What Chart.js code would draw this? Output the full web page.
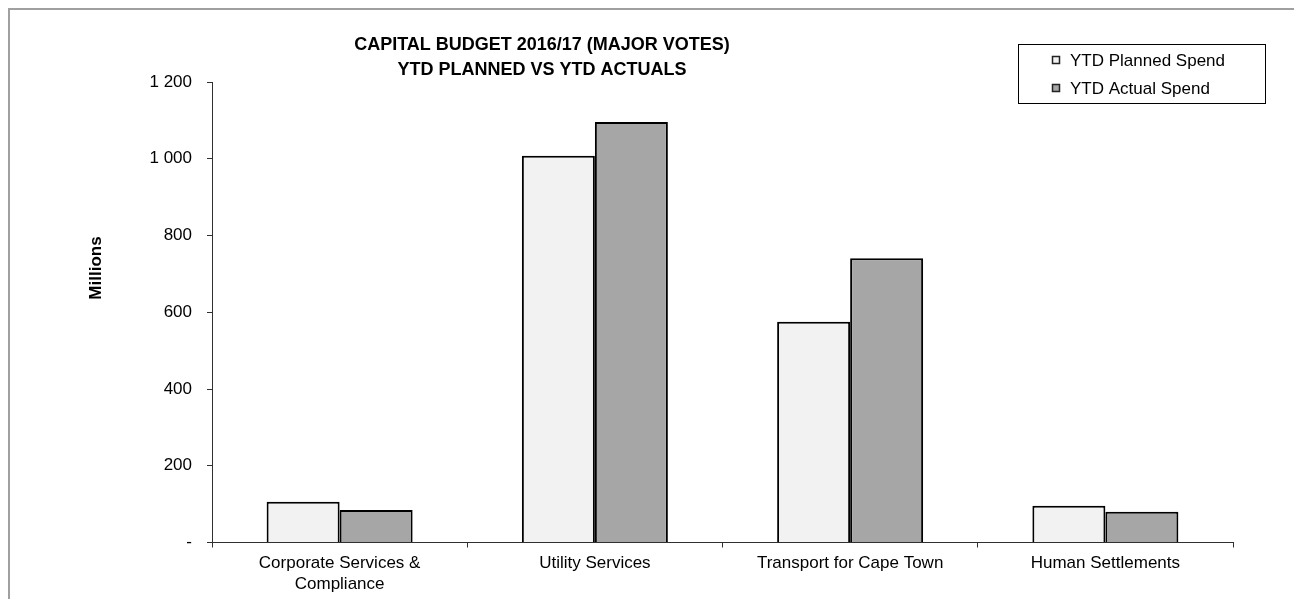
<!DOCTYPE html>
<html>
<head>
<meta charset="utf-8">
<title>Capital Budget 2016/17</title>
<script src="https://cdn.jsdelivr.net/npm/chart.js@4/dist/chart.umd.min.js"></script>
<style>
  html, body { margin: 0; padding: 0; background: #fff; overflow: hidden; }
  #frame {
    position: absolute; left: 8px; top: 8px; width: 1400px; height: 700px;
    border-left: 2px solid #a0a0a0; border-top: 2px solid #a0a0a0;
  }
  #budgetChart { position: absolute; left: 0; top: 0; }
</style>
</head>
<body>
<div id="frame"></div>
<canvas id="budgetChart" width="1294" height="599"></canvas>
<script>
// major votes, values in millions
var categories = [['Corporate Services &', 'Compliance'], 'Utility Services', 'Transport for Cape Town', 'Human Settlements'];
var plannedSpend = [106, 1008, 575, 96];
var actualSpend = [85, 1096, 741, 80];
var seriesNames = ['YTD Planned Spend', 'YTD Actual Spend'];
var seriesColors = ['#f2f2f2', '#a6a6a6'];
var titleLines = ['CAPITAL BUDGET 2016/17 (MAJOR VOTES)', 'YTD PLANNED VS YTD ACTUALS'];
var yAxisTitle = 'Millions';
var yMin = 0, yMax = 1200, yStep = 200;

var FONT = "'Liberation Sans', Arial, sans-serif";
var AXIS = '#303030';

// thousands separated by a space, zero shown as a dash
function formatMillions(v) {
  if (v === 0) return '-';
  return String(v).replace(/\B(?=(\d{3})+(?!\d))/g, ' ');
}

// title, rotated axis caption and boxed legend
var decorPlugin = {
  id: 'decor',
  afterDraw: function (chart) {
    var ctx = chart.ctx;
    ctx.save();
    ctx.fillStyle = '#000';
    ctx.textAlign = 'center';
    ctx.textBaseline = 'alphabetic';
    ctx.font = 'bold 18px ' + FONT;
    titleLines.forEach(function (line, i) {
      ctx.fillText(line, 542, 50 + i * 25);
    });

    ctx.save();
    ctx.translate(96, 268);
    ctx.rotate(-Math.PI / 2);
    ctx.font = 'bold 17px ' + FONT;
    ctx.textBaseline = 'middle';
    ctx.fillText(yAxisTitle, 0, 0);
    ctx.restore();

    // legend box
    ctx.lineWidth = 1;
    ctx.strokeStyle = '#000';
    ctx.strokeRect(1018.5, 44.5, 247, 59);
    ctx.font = '17px ' + FONT;
    ctx.textAlign = 'left';
    ctx.textBaseline = 'middle';
    chart.data.datasets.forEach(function (ds, i) {
      var cy = 60 + i * 28;
      ctx.fillStyle = ds.backgroundColor;
      ctx.fillRect(1052, cy - 4, 8, 8);
      ctx.strokeStyle = '#222';
      ctx.lineWidth = 1.5;
      ctx.strokeRect(1052.5, cy - 3.5, 7, 7);
      ctx.fillStyle = '#000';
      ctx.fillText(ds.label, 1070, cy + 1);
    });
    ctx.restore();
  }
};

var ctx = document.getElementById('budgetChart').getContext('2d');
var chart = new Chart(ctx, {
  type: 'bar',
  data: {
    labels: categories,
    datasets: [{
      label: seriesNames[0],
      data: plannedSpend,
      backgroundColor: seriesColors[0],
      borderColor: '#000',
      borderWidth: 2,
      borderSkipped: 'bottom'
    }, {
      label: seriesNames[1],
      data: actualSpend,
      backgroundColor: seriesColors[1],
      borderColor: '#000',
      borderWidth: 2,
      borderSkipped: 'bottom'
    }]
  },
  options: {
    responsive: false,
    animation: false,
    datasets: {
      bar: { categoryPercentage: 0.572, barPercentage: 1.0 }
    },
    layout: {
      padding: { left: 0, top: 82, right: 61, bottom: 0 }
    },
    plugins: {
      legend: { display: false },
      title: { display: false },
      tooltip: { enabled: false }
    },
    scales: {
      x: {
        offset: true,
        grid: {
          display: true, drawOnChartArea: false, drawTicks: true,
          tickLength: 5, color: AXIS, offset: true
        },
        border: { display: true, color: AXIS, width: 1 },
        ticks: {
          color: '#000', padding: 6, maxRotation: 0, autoSkip: false,
          font: { family: FONT, size: 17, lineHeight: 1.2 }
        },
        afterFit: function (scale) { scale.height = 56.5; }
      },
      y: {
        min: yMin,
        max: yMax,
        grid: {
          display: true, drawOnChartArea: false, drawTicks: true,
          tickLength: 5, color: AXIS
        },
        border: { display: true, color: AXIS, width: 1 },
        ticks: {
          stepSize: yStep,
          color: '#000',
          padding: 15,
          font: { family: FONT, size: 17 },
          callback: function (v) { return formatMillions(v); }
        },
        afterFit: function (scale) { scale.width = 212; }
      }
    }
  },
  plugins: [decorPlugin]
});
</script>
</body>
</html>
